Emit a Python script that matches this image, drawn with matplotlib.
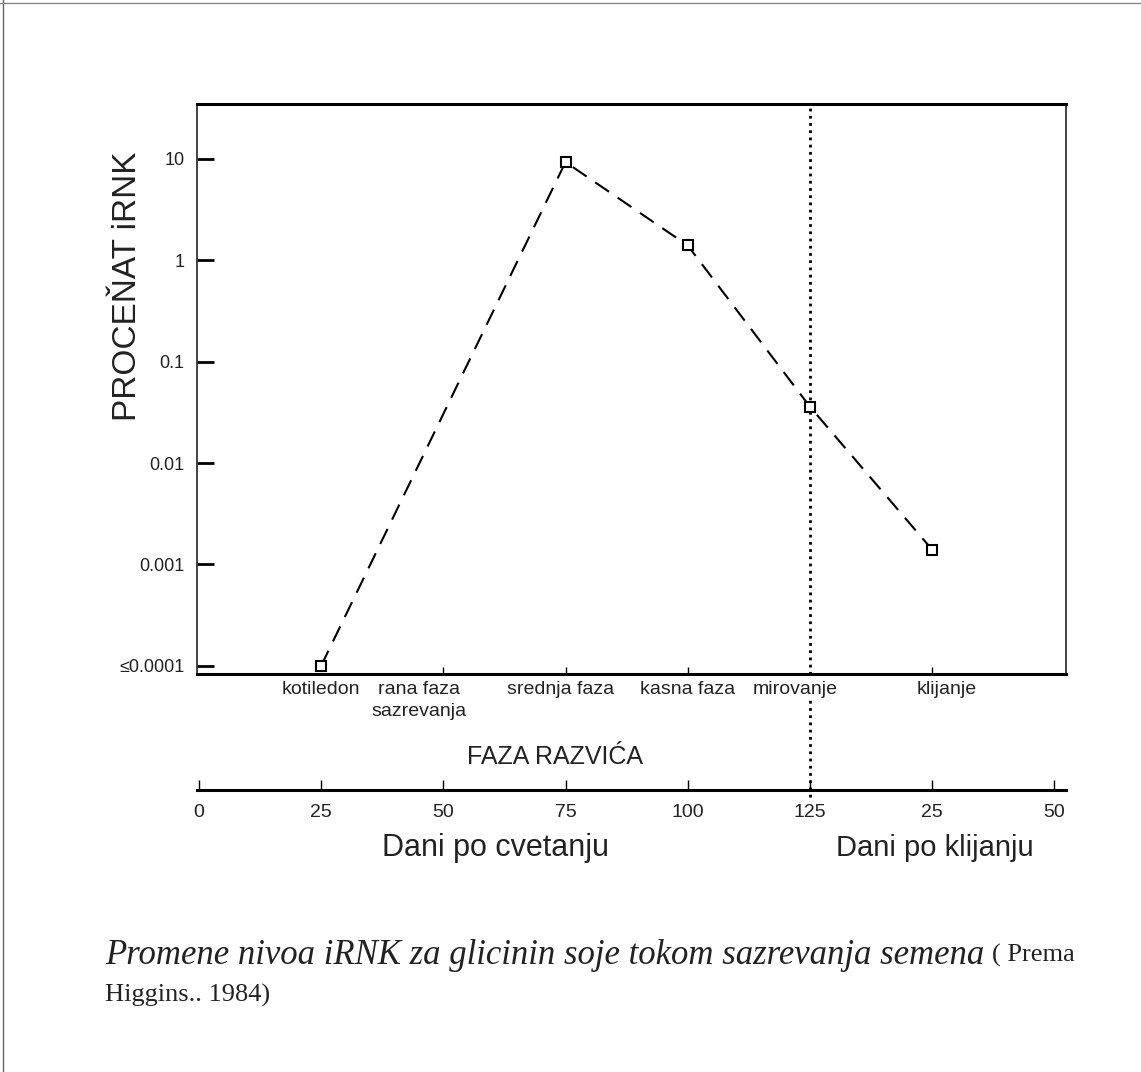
import matplotlib
matplotlib.use("Agg")
import matplotlib.pyplot as plt
from matplotlib.lines import Line2D
from matplotlib.ticker import FixedLocator, NullLocator

# ---- data ----
days = [25, 75, 100, 125, 150]            # days (125+25 = 25 days after germination)
mrna_pct = [0.0001, 9.3, 1.4, 0.036, 0.0014]

ytick_vals = [0.0001, 0.001, 0.01, 0.1, 1, 10]
ytick_labels = ["≤0.0001", "0.001", "0.01", "0.1", "1", "10"]

phase_x = [25, 45, 74, 100, 122, 153]
phase_labels = ["kotiledon", "rana faza\nsazrevanja", "srednja faza", "kasna faza", "mirovanje", "klijanje"]

day_ticks = [0, 25, 50, 75, 100, 125, 150, 175]
day_tick_labels = ["0", "25", "50", "75", "100", "125", "25", "50"]

SANS = ["Liberation Sans", "DejaVu Sans"]
SERIF = ["Liberation Serif", "DejaVu Serif"]
TXT = "#222222"

fig = plt.figure(figsize=(11.41, 10.72), dpi=100)
fig.patch.set_facecolor("white")

W, H = 1141.0, 1072.0
ax = fig.add_axes([197 / W, 1 - 674 / H, (1066 - 197) / W, 570 / H])
ax.set_yscale("log")
ax.set_xlim(-0.4, 177.4)
ax.set_ylim(8.3e-5, 34.8)

ax.plot(days, mrna_pct, color="black", lw=1.5, dashes=(8, 5),
        marker="s", markersize=7, markerfacecolor="white",
        markeredgecolor="black", markeredgewidth=1.5, zorder=3)

# divider between maturation and germination
ax.axvline(125, ymin=-0.216, ymax=1, color="black", lw=2,
           linestyle=(0, (1, 1.6)), clip_on=False, zorder=2)

# spines
for s in ["top", "bottom"]:
    ax.spines[s].set_linewidth(2.2)
for s in ["left", "right"]:
    ax.spines[s].set_linewidth(1.3)
    ax.spines[s].set_color("#333333")

ax.yaxis.set_major_locator(FixedLocator(ytick_vals))
ax.yaxis.set_minor_locator(NullLocator())
ax.set_yticklabels(ytick_labels, fontfamily=SANS, fontsize=13, color=TXT)
ax.tick_params(axis="y", direction="in", length=12, width=2, pad=9)
ax.xaxis.set_major_locator(FixedLocator([50, 75, 100, 150]))
ax.tick_params(axis="x", direction="in", length=5, width=1, labelbottom=False)

ax.set_ylabel("PROCEŇAT iRNK", fontfamily=SANS, fontsize=24, color=TXT)
ax.yaxis.set_label_coords(-0.062, 0.68)

# phase labels
trans = ax.get_xaxis_transform()
for x, lab in zip(phase_x, phase_labels):
    ax.text(x, -0.012, lab, transform=trans, ha="center", va="top",
            fontfamily=SANS, fontsize=14, color=TXT, linespacing=1.4,
            bbox=dict(facecolor="white", edgecolor="none", pad=1.5), zorder=4,
            clip_on=False)

fig.text(555 / W, 1 - 757 / H, "FAZA RAZVIĆA", ha="center", va="center",
         fontfamily=SANS, fontsize=18, color=TXT)

# lower days axis
ax2 = fig.add_axes([197 / W, 1 - 790 / H, (1066 - 197) / W, 0.001])
ax2.set_xlim(ax.get_xlim())
for s in ["top", "left", "right"]:
    ax2.spines[s].set_visible(False)
ax2.spines["bottom"].set_linewidth(2.2)
ax2.set_yticks([])
ax2.set_xticks(day_ticks)
ax2.set_xticklabels(day_tick_labels, fontfamily=SANS, fontsize=14, color=TXT)
ax2.tick_params(axis="x", direction="in", length=7, width=1, pad=10)
ax2.patch.set_alpha(0)

fig.text(496 / W, 1 - 848 / H, "Dani po cvetanju", ha="center", va="center",
         fontfamily=SANS, fontsize=22, color=TXT)
fig.text(935 / W, 1 - 848 / H, "Dani po klijanju", ha="center", va="center",
         fontfamily=SANS, fontsize=21, color=TXT)

# caption
cap = fig.text(105 / W, 1 - 955 / H,
               "Promene nivoa iRNK za glicinin soje tokom sazrevanja semena",
               ha="left", va="center", fontfamily=SERIF, fontstyle="italic",
               fontsize=25, color=TXT)
fig.canvas.draw()
bb = cap.get_window_extent()
fig.text((bb.x1 + 8) / W, 1 - 955 / H, "( Prema", ha="left", va="center",
         fontfamily=SERIF, fontsize=19, color=TXT)
fig.text(105 / W, 1 - 995 / H, "Higgins.. 1984)", ha="left", va="center",
         fontfamily=SERIF, fontsize=19, color=TXT)

# page border lines
fig.add_artist(Line2D([3 / W, 3 / W], [0, 1], color="#666666", lw=1))
fig.add_artist(Line2D([0, 1], [1 - 3 / H, 1 - 3 / H], color="#888888", lw=1))

fig.savefig("out.png", dpi=100, facecolor="white")
